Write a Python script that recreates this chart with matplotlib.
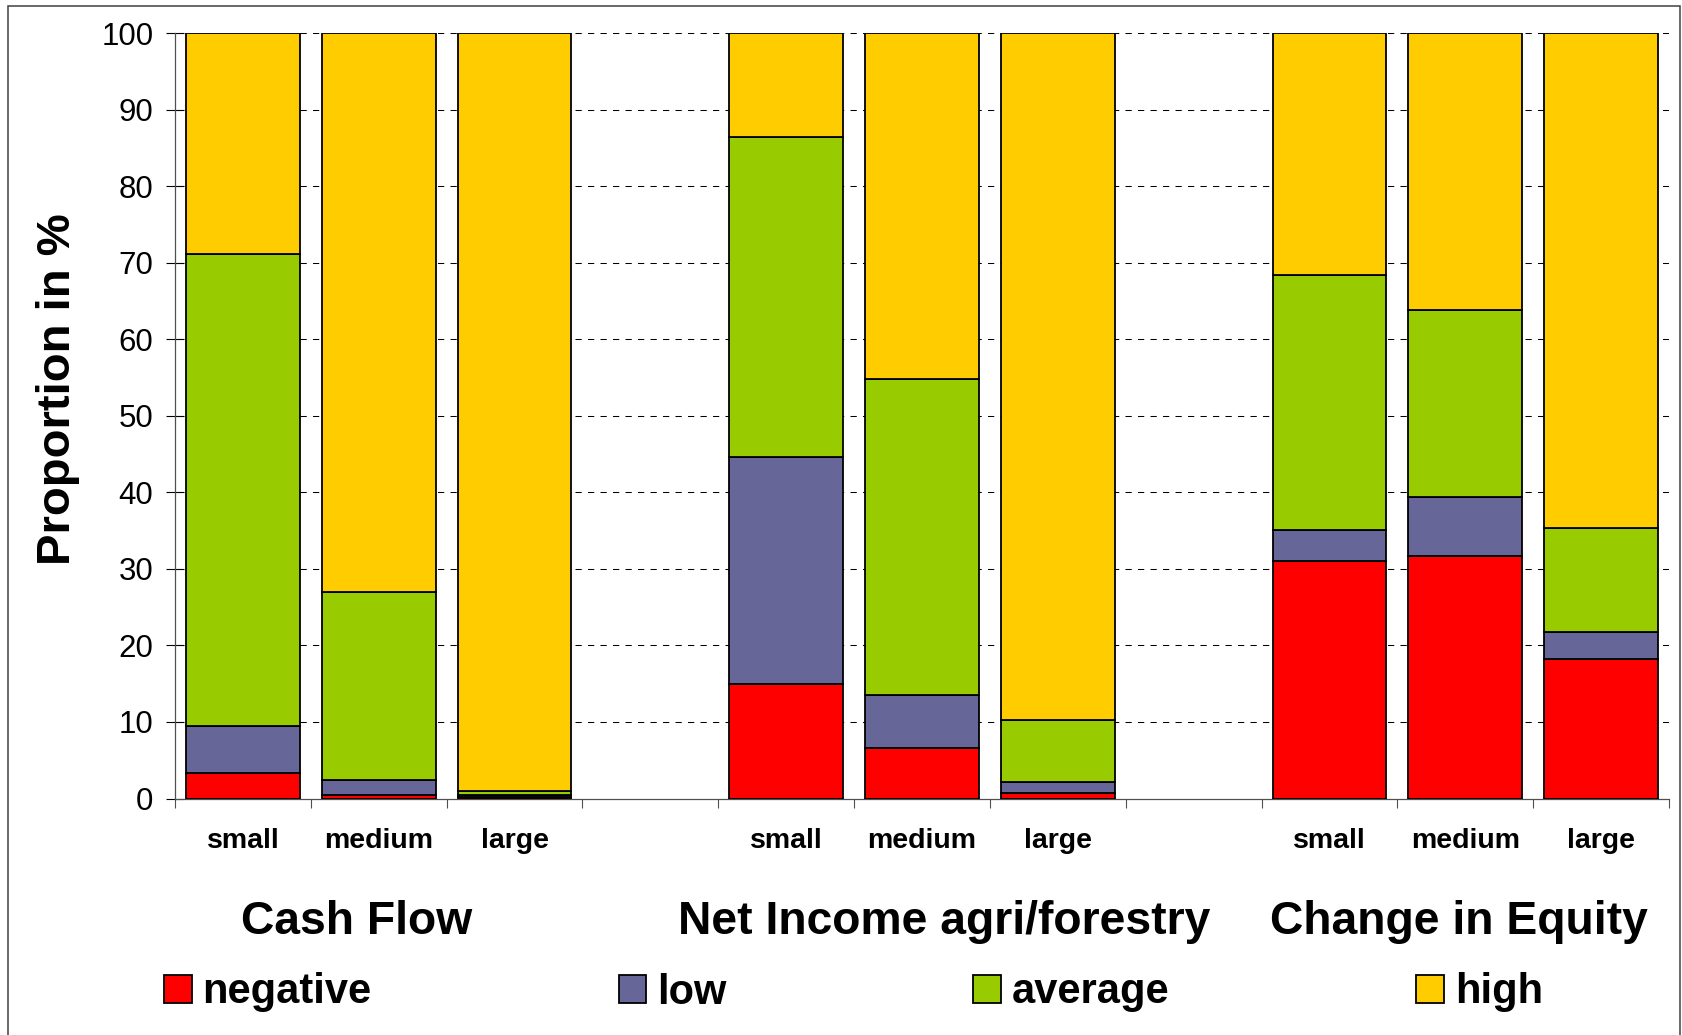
import numpy as np
import matplotlib
matplotlib.use("Agg")
import matplotlib.pyplot as plt
import matplotlib.transforms as mtransforms
from matplotlib.patches import Rectangle

plt.rcParams['font.family'] = ['Liberation Sans', 'DejaVu Sans']

groups = ["Cash Flow", "Net Income agri/forestry", "Change in Equity"]
sizes = ["small", "medium", "large"]

# share of farms per class (%), ordered small/medium/large within each group
negative = [3.3, 0.45, 0.2, 15.0, 6.65, 0.75, 31.0, 31.7, 18.2]
low = [6.2, 2.0, 0.3, 29.6, 6.85, 1.4, 4.1, 7.7, 3.5]
average = [61.6, 24.6, 0.5, 41.9, 41.3, 8.05, 33.3, 24.5, 13.6]
high = [28.9, 72.95, 99.0, 13.5, 45.2, 89.8, 31.6, 36.1, 64.7]

series = [("negative", negative, "#FF0000"),
          ("low", low, "#666699"),
          ("average", average, "#99CC00"),
          ("high", high, "#FFCC00")]

# one empty slot between the groups
pos = np.array([g * 4 + i for g in range(len(groups)) for i in range(len(sizes))])

fig = plt.figure(figsize=(16.83, 10.35), dpi=100)
ax = fig.add_axes([175 / 1683, 1 - 798.5 / 1035, 1494 / 1683, 765.2 / 1035])

bottom = np.zeros(len(pos))
for name, vals, col in series:
    ax.bar(pos, vals, width=0.837, bottom=bottom, color=col,
           edgecolor="black", linewidth=1.3, label=name, zorder=3)
    bottom += np.array(vals)

ax.set_xlim(-0.5, 10.5)
ax.set_ylim(0, 100)
ax.set_yticks(np.arange(0, 101, 10))
ax.tick_params(axis="y", direction="inout", length=13, width=0.8,
               labelsize=22.5, pad=9)
for y in np.arange(10, 101, 10):
    ax.axhline(y, color="black", lw=0.75, ls=(0, (6, 6)), zorder=1)

ax.set_xticks(pos)
ax.set_xticklabels(sizes * len(groups), fontsize=20.5, fontweight="bold")
ax.tick_params(axis="x", which="major", length=0, pad=21)
ax.set_xticks(np.arange(-0.5, 11, 1), minor=True)
ax.tick_params(axis="x", which="minor", direction="out", length=6.5,
               width=0.8, color="#505050")

for side in ["top", "right"]:
    ax.spines[side].set_visible(False)
for side in ["left", "bottom"]:
    ax.spines[side].set_color("#505050")
    ax.spines[side].set_linewidth(0.9)

ax.text(-0.078, 0.535, "Proportion in %", transform=ax.transAxes,
        rotation=90, ha="center", va="center", fontsize=34, fontweight="bold")

trans = mtransforms.blended_transform_factory(ax.transData, fig.transFigure)
title_x = [0.84, 5.16, 8.95]
for gx, name in zip(title_x, groups):
    ax.text(gx, 1 - 933.5 / 1035, name, transform=trans, ha="center",
            va="baseline", fontsize=33.3, fontweight="bold")

fig.legend(loc="center left", bbox_to_anchor=(164 / 1683, 1 - 992.5 / 1035),
           ncol=4, frameon=False, borderpad=0, borderaxespad=0,
           handlelength=0.67, handleheight=0.67, handletextpad=0.25,
           columnspacing=5.93, prop={"size": 30, "weight": "bold"})

fig.patches.append(Rectangle((8 / 1683, -0.01), 1672 / 1683, 1.01 - 6 / 1035,
                             transform=fig.transFigure, fill=False,
                             edgecolor="#404040", linewidth=1.1))

fig.savefig("out.png", dpi=100)
